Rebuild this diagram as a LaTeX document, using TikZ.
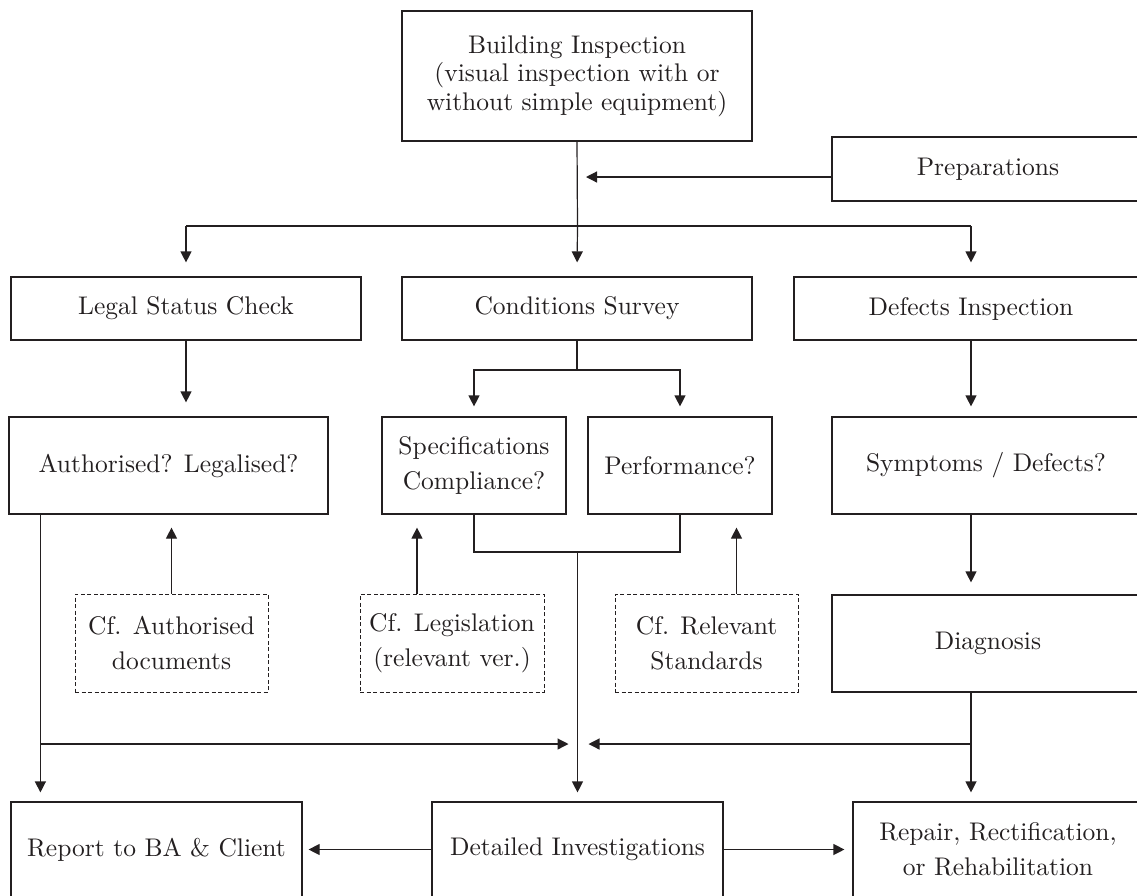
\documentclass[tikz,border=0pt]{standalone}
\usepackage{fontspec}
\setmainfont{lmroman10-regular.otf}
\usetikzlibrary{arrows.meta}
\definecolor{ink}{RGB}{35,31,32}
\newcommand{\myfontA}{\fontsize{25.5}{28.5}\selectfont}
\newcommand{\myfontB}{\fontsize{25.5}{35}\selectfont}
\tikzset{
  box/.style={draw=ink, text=ink, line width=1.2pt, inner sep=0pt, align=center, font=\myfontB},
  dbox/.style={draw=ink, text=ink, line width=0.9pt, dash pattern=on 4pt off 2.5pt, inner sep=0pt, align=center, font=\myfontB},
  ln/.style={draw=ink, line width=1.2pt},
  arr/.style={draw=ink, line width=1.2pt, -{Triangle[length=11pt,width=11pt]}}
}
\begin{document}
\begin{tikzpicture}[x=1pt,y=-1pt]
\clip (0,0) rectangle (1137,895);
% nodes
\node[box, minimum width=350pt, minimum height=130pt, font=\myfontA] (bi) at (577,76) {Building Inspection\\(visual inspection with or\\without simple equipment)};
\node[box, minimum width=312pt, minimum height=64pt] (prep) at (988,169) {Preparations};
\node[box, minimum width=350pt, minimum height=63pt] (legal) at (186,308.5) {Legal Status Check};
\node[box, minimum width=350pt, minimum height=63pt] (cond) at (577,308.5) {Conditions Survey};
\node[box, minimum width=354pt, minimum height=63pt] (defi) at (971,308.5) {Defects Inspection};
\node[box, minimum width=319pt, minimum height=97pt] (auth) at (168.5,465.5) {Authorised? Legalised?};
\node[box, minimum width=184pt, minimum height=97pt] (spec) at (474,465.5) {Specifications\\Compliance?};
\node[box, minimum width=184pt, minimum height=97pt] (perf) at (680,465.5) {Performance?};
\node[box, minimum width=308pt, minimum height=97pt] (symp) at (986,465.5) {Symptoms / Defects?};
\node[dbox, minimum width=193pt, minimum height=98pt] (cfa) at (171.5,643) {Cf. Authorised\\documents};
\node[dbox, minimum width=184pt, minimum height=98pt] (cfl) at (452,643) {Cf. Legislation\\(relevant ver.)};
\node[dbox, minimum width=183pt, minimum height=98pt] (cfr) at (706.5,643) {Cf. Relevant\\Standards};
\node[box, minimum width=312pt, minimum height=97pt] (diag) at (988,643.5) {Diagnosis};
\node[box, minimum width=291pt, minimum height=95pt] (rep) at (156.5,849.5) {Report to BA \& Client};
\node[box, minimum width=291pt, minimum height=95pt] (det) at (577.5,849.5) {Detailed Investigations};
\node[box, minimum width=290pt, minimum height=95pt] (rr) at (998,849.5) {Repair, Rectification,\\or Rehabilitation};
% junctions
\coordinate (j1) at (577.5,226);
\coordinate (j2) at (577,370);
\coordinate (j3) at (577.5,552);
\coordinate (j4) at (577.5,744);
\coordinate (al) at ([xshift=32pt]auth.south west);
% connectors
\draw[ln] (bi.south) -- (j1);
\draw[arr, shorten >=9pt] ([yshift=-8pt]prep.west) -- ([yshift=-8pt]prep.west -| bi.south);
\draw[ln] (legal.north |- j1) -- (defi.north |- j1);
\draw[arr, shorten >=14pt] (legal.north |- j1) -- (legal.north);
\draw[arr, shorten >=14pt] (j1) -- (cond.north);
\draw[arr, shorten >=14pt] (defi.north |- j1) -- (defi.north);
\draw[arr, shorten >=14pt] (legal.south) -- (legal.south |- auth.north);
\draw[ln] (cond.south) -- (j2);
\draw[arr, shorten >=10pt] (j2) -| (spec.north);
\draw[arr, shorten >=10pt] (j2) -| (perf.north);
\draw[ln] (spec.south) |- (j3) -| (perf.south);
\draw[arr, shorten >=9pt] (j3) -- (det.north);
\draw[arr, shorten >=10pt] (defi.south) -- (defi.south |- symp.north);
\draw[arr, shorten >=12pt] (defi.south |- symp.south) -- (defi.south |- diag.north);
\draw[arr, shorten >=9pt] (defi.south |- diag.south) -- (defi.south |- rr.north);
\draw[arr, shorten >=11pt] (defi.south |- j4) -- (j4);
\draw[arr, shorten >=9pt] (al) -- (al |- rep.north);
\draw[arr, shorten >=9pt] (al |- j4) -- (j4);
\draw[arr, shorten >=13pt] (cfa.north) -- (cfa.north |- auth.south);
\draw[arr, shorten >=13pt] ([xshift=-35pt]cfl.north) -- ([xshift=-35pt]cfl.north |- spec.south);
\draw[arr, shorten >=13pt] ([xshift=30pt]cfr.north) -- ([xshift=30pt]cfr.north |- perf.south);
\draw[arr, shorten >=6pt] (det.west) -- (rep.east);
\draw[arr, shorten >=8pt] (det.east) -- (rr.west);
\end{tikzpicture}
\end{document}
